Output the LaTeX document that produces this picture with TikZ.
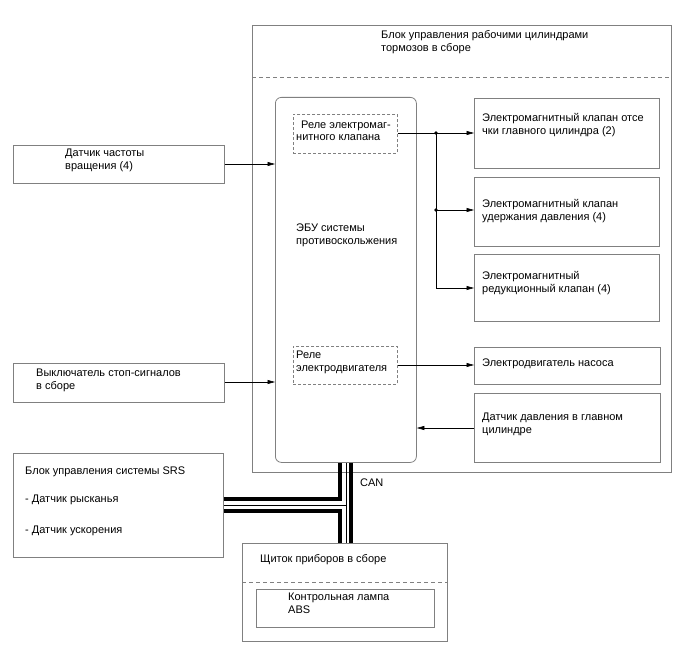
\documentclass[tikz,border=0pt]{standalone}
\usepackage{fontspec}
\setmainfont{Liberation Sans}
\usetikzlibrary{arrows.meta,calc}
\definecolor{boxgray}{HTML}{808080}
\begin{document}
\begin{tikzpicture}[x=1pt,y=-1pt,
  box/.style={draw=boxgray,line width=0.8pt,inner sep=0,anchor=north west},
  dbox/.style={draw=boxgray,line width=0.8pt,dash pattern=on 3pt off 2pt,inner sep=0,anchor=north west},
  lbl/.style={anchor=base west,inner sep=0,align=left,font=\fontsize{11}{13}\selectfont},
  arr/.style={line width=0.6pt,-{Triangle[length=7.5pt,width=4pt]}},
  wire/.style={line width=0.6pt},
  dot/.style={circle,fill=black,inner sep=0,minimum size=3.8pt},
  thickbus/.style={line width=3.6pt},
  thinbus/.style={line width=0.9pt}]
\useasboundingbox (0,0) rectangle (688,658);
% outer block
\node[box,minimum width=419pt,minimum height=447pt] (outer) at (252,25) {};
\draw[boxgray,line width=0.8pt,dash pattern=on 4pt off 3pt] (outer.west |- 0,77) coordinate (dl) -- (outer.east |- 0,77) coordinate (dr);
\node[lbl] (tOuter) at (381,52) {Блок управления рабочими цилиндрами\\тормозов в сборе};
% ECU
\node[box,rounded corners=6pt,minimum width=141pt,minimum height=365pt] (ecu) at (275,97) {};
\node[lbl] (tEcu) at (296,244) {ЭБУ системы\\противоскольжения};
% relays
\node[dbox,minimum width=104pt,minimum height=39pt] (r1) at (293,114) {};
\node[lbl] (tR1) at (296,141) {\hspace*{5pt}Реле электромаг-\\нитного клапана};
\node[dbox,minimum width=104pt,minimum height=38pt] (r2) at (293,346) {};
\node[lbl] (tR2) at (296,371) {Реле\\электродвигателя};
% right boxes
\node[box,minimum width=185pt,minimum height=70pt] (v1) at (474,98) {};
\node[lbl] (tV1) at (482,135) {Электромагнитный клапан отсе\\чки главного цилиндра (2)};
\node[box,minimum width=185pt,minimum height=69pt] (v2) at (474,177) {};
\node[lbl] (tV2) at (482,220) {Электромагнитный клапан\\удержания давления (4)};
\node[box,minimum width=185pt,minimum height=67pt] (v3) at (474,254) {};
\node[lbl] (tV3) at (482,292) {Электромагнитный\\редукционный клапан (4)};
\node[box,minimum width=186pt,minimum height=37pt] (pump) at (474,347) {};
\node[lbl] (tPump) at (482,366) {Электродвигатель насоса};
\node[box,minimum width=186pt,minimum height=69pt] (press) at (474,393) {};
\node[lbl] (tPress) at (482,433) {Датчик давления в главном\\цилиндре};
% left boxes
\node[box,minimum width=211pt,minimum height=38pt] (spd) at (13,145) {};
\node[lbl] (tSpd) at (65,169) {Датчик частоты\\вращения (4)};
\node[box,minimum width=211pt,minimum height=39pt] (brk) at (13,363) {};
\node[lbl] (tBrk) at (36,389) {Выключатель стоп-сигналов\\в сборе};
\node[box,minimum width=210pt,minimum height=104pt] (srs) at (13,453) {};
\node[lbl] (tSrs1) at (25,474) {Блок управления системы SRS};
\node[lbl] (tSrs2) at (25,502) {- Датчик рысканья};
\node[lbl] (tSrs3) at (25,533) {- Датчик ускорения};
% cluster
\node[box,minimum width=205pt,minimum height=98pt] (cl) at (242,543) {};
\node[lbl] (tCl) at (260,562) {Щиток приборов в сборе};
\draw[boxgray,line width=0.8pt,dash pattern=on 4pt off 3pt] (cl.west |- 0,582) -- (cl.east |- 0,582);
\node[box,minimum width=178pt,minimum height=38pt] (lamp) at (256,589) {};
\node[lbl] (tLamp) at (288,613) {Контрольная лампа\\ABS};
% connectors
\coordinate (j1) at (436,133);
\coordinate (j2) at (436,210);
\coordinate (j3) at (436,288);
\draw[wire] (r1.east |- j1) -- (j1);
\draw[arr] (j1) -- (v1.west |- j1);
\draw[wire] (j1) -- (j3);
\draw[arr] (j2) -- (v2.west |- j2);
\draw[arr] (j3) -- (v3.west |- j3);
\node[dot] (d1) at (j1) {};
\node[dot] (d2) at (j2) {};
\draw[arr] (r2.east |- 0,365) -- (pump.west |- 0,365);
\draw[arr] (press.west |- 0,428) -- (ecu.east |- 0,428);
\draw[arr] (spd.east |- 0,164) -- (ecu.west |- 0,164);
\draw[arr] (brk.east |- 0,382) -- (ecu.west |- 0,382);
% CAN bus
\draw[thickbus] (srs.east |- 0,499) -- (340,499) -- (340,0 |- ecu.south);
\draw[thickbus] (srs.east |- 0,511) -- (340,511) -- (340,0 |- cl.north);
\draw[thickbus] (351,0 |- ecu.south) -- (351,0 |- cl.north);
\draw[thinbus] (srs.east |- 0,505) -- (346.5,505);
\draw[thinbus] (346.5,0 |- ecu.south) -- (346.5,0 |- cl.north);
\node[lbl] (tCan) at (360,486) {CAN};
\end{tikzpicture}
\end{document}
